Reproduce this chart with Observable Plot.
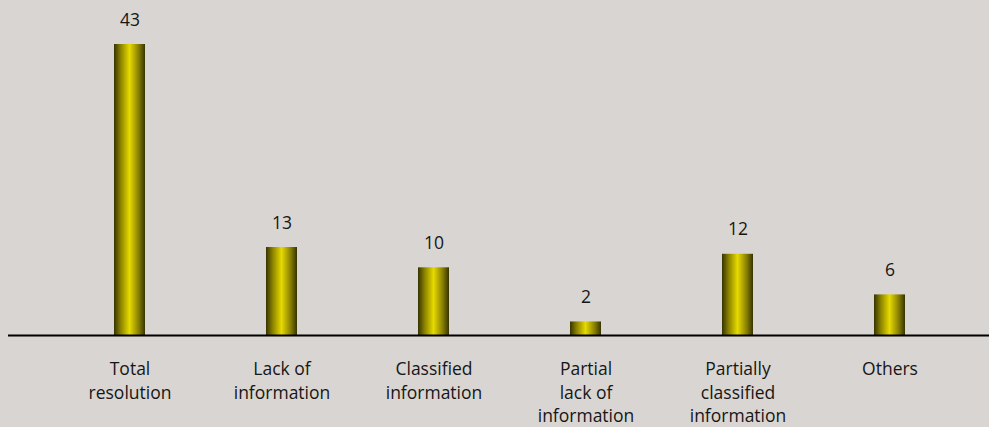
<!DOCTYPE html>
<html>
<head>
<meta charset="utf-8">
<script src="https://cdn.jsdelivr.net/npm/d3@7"></script>
<script src="https://cdn.jsdelivr.net/npm/@observablehq/plot@0.6"></script>
<style>
  html, body { margin: 0; padding: 0; background: #d9d5d2; }
  #chart svg { display: block; background: #d9d5d2; }
</style>
</head>
<body>
<div id="chart"></div>
<script>
const categories = ["Total resolution", "Lack of information", "Classified information", "Partial lack of information", "Partially classified information", "Others"];
const tickLabels = ["Total\nresolution", "Lack of\ninformation", "Classified\ninformation", "Partial\nlack of\ninformation", "Partially\nclassified\ninformation", "Others"];
const values = [43, 13, 10, 2, 12, 6];

const data = categories.map((c, i) => ({category: c, label: tickLabels[i], value: values[i]}));

const chart = Plot.plot({
  width: 989,
  height: 427,
  marginLeft: 8,
  marginRight: 0,
  marginTop: 0,
  marginBottom: 0,
  style: {background: "#d9d5d2", fontFamily: "'Open Sans', sans-serif", fontSize: "18px", color: "#161616"},
  x: {domain: categories, range: [51.5, 968], paddingInner: 0.797, paddingOuter: 0.3985, axis: null},
  y: {domain: [0, 43], range: [335, 44], axis: null},
  marks: [
    Plot.barY(data, {x: "category", y: "value", fill: "url(#barGrad)"}),
    Plot.ruleY([0], {stroke: "#000", strokeWidth: 2}),
    Plot.text(data, {x: "category", y: "value", text: d => String(d.value), dy: -24.5, fontSize: 17.5, fill: "#161616"}),
    Plot.text(data, {x: "category", y: 0, text: "label", lineAnchor: "top", dy: 23, lineHeight: 1.34, fontSize: 17.5, fill: "#161616"})
  ]
});

const ns = "http://www.w3.org/2000/svg";
const defs = document.createElementNS(ns, "defs");
const grad = document.createElementNS(ns, "linearGradient");
grad.setAttribute("id", "barGrad");
grad.setAttribute("x1", "0"); grad.setAttribute("x2", "1");
grad.setAttribute("y1", "0"); grad.setAttribute("y2", "0");
[["0", "#363400"], ["0.2", "#857d00"], ["0.5", "#e8da00"], ["0.8", "#857d00"], ["1", "#363400"]].forEach(([o, c]) => {
  const s = document.createElementNS(ns, "stop");
  s.setAttribute("offset", o); s.setAttribute("stop-color", c);
  grad.appendChild(s);
});
defs.appendChild(grad);
chart.insertBefore(defs, chart.firstChild);
document.getElementById("chart").appendChild(chart);
</script>
</body>
</html>
